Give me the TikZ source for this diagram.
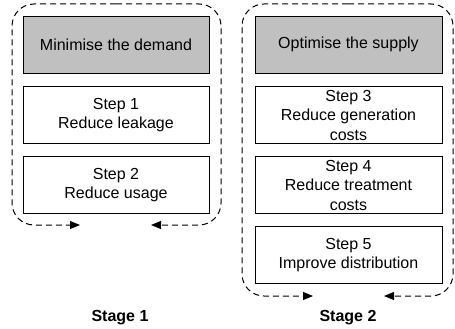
\documentclass[tikz,border=0pt]{standalone}
\usepackage{fontspec}
\setmainfont{Liberation Sans}
\usetikzlibrary{arrows.meta}
\definecolor{boxgrey}{RGB}{192,192,192}
\tikzset{
  stepbox/.style={draw=black, line width=0.9pt, fill=white, minimum height=57pt, inner sep=0pt, align=center, font=\fontsize{16}{19.5}\selectfont},
  headbox/.style={stepbox, fill=boxgrey},
  loopline/.style={draw=black, line width=1pt, dash pattern=on 6pt off 4pt, rounded corners=22pt, -{Triangle[length=10pt,width=8pt]}},
  stagelabel/.style={font=\fontsize{16}{18}\selectfont\bfseries}
}
\begin{document}
\begin{tikzpicture}[x=1pt,y=-1pt]
\useasboundingbox (0,0) rectangle (455,329);
% Stage 1
\coordinate (t1) at (116,4);
\coordinate (e1l) at (80,225);
\coordinate (e1r) at (151,225);
\draw[loopline] (t1) -- (12,4) -- (12,225) -- (e1l);
\draw[loopline] (t1) -- (221,4) -- (221,225) -- (e1r);
\node[headbox, minimum width=186pt] (h1) at (116,44.5) {Minimise the demand};
\node[stepbox, minimum width=186pt] (s1) at (116,115) {Step 1\\Reduce leakage};
\node[stepbox, minimum width=186pt] (s2) at (116,185) {Step 2\\Reduce usage};
\node[stagelabel] (l1) at (120,318) {Stage 1};
% Stage 2
\coordinate (t2) at (348,4);
\coordinate (e2l) at (313,296);
\coordinate (e2r) at (384,296);
\draw[loopline] (t2) -- (242,4) -- (242,296) -- (e2l);
\draw[loopline] (t2) -- (453,4) -- (453,296) -- (e2r);
\node[headbox, minimum width=187pt] (h2) at (348.5,44.5) {Optimise the supply};
\node[stepbox, minimum width=187pt] (s3) at (348.5,115) {Step 3\\Reduce generation\\costs};
\node[stepbox, minimum width=187pt] (s4) at (348.5,185) {Step 4\\Reduce treatment\\costs};
\node[stepbox, minimum width=187pt] (s5) at (348.5,255) {Step 5\\Improve distribution};
\node[stagelabel] (l2) at (348,318) {Stage 2};
\end{tikzpicture}
\end{document}
